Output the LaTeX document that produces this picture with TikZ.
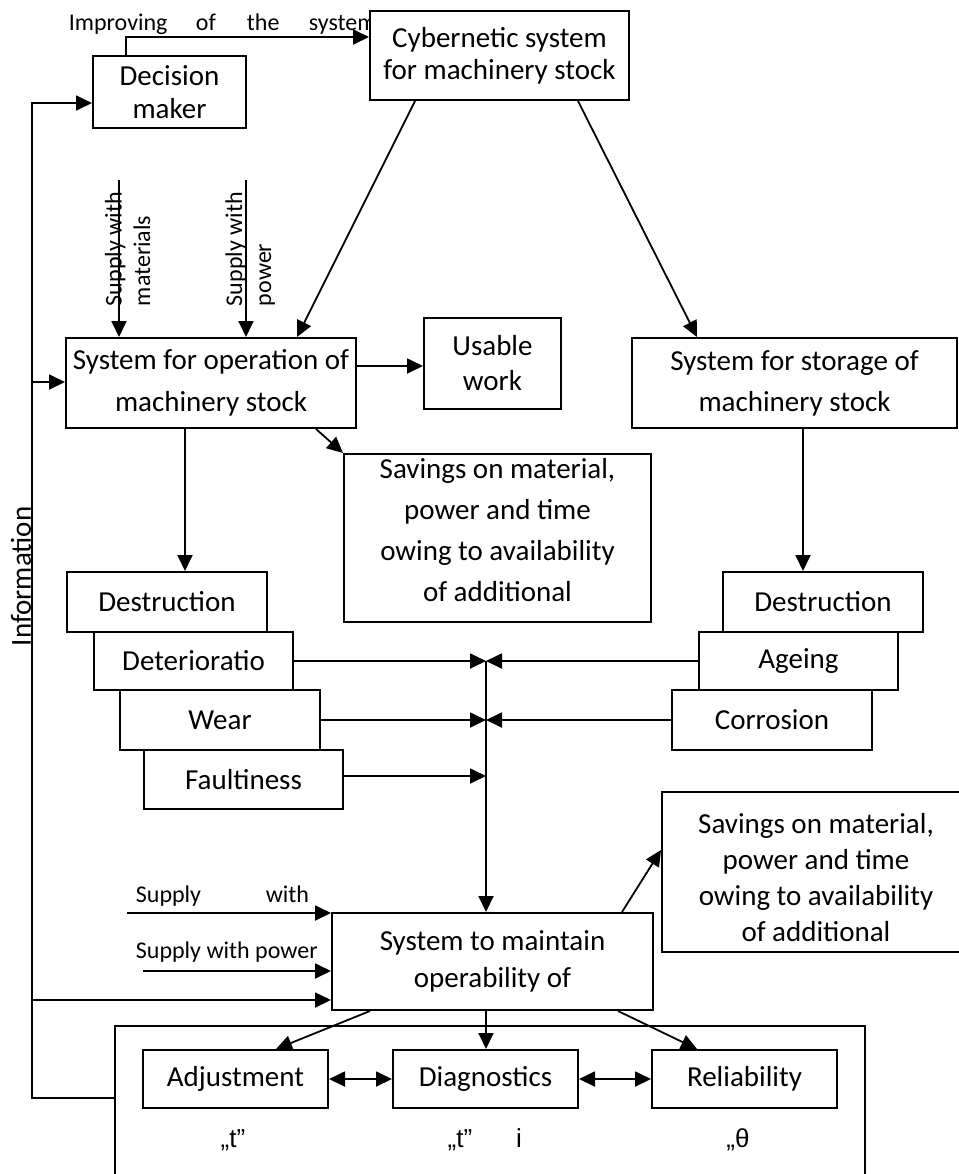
\documentclass[tikz,border=0pt]{standalone}
\usepackage{fontspec}
\setmainfont{Carlito}
\newfontfamily\arialf{Liberation Sans}
\usetikzlibrary{arrows.meta}
\newcommand\mainf[1]{\fontsize{14.5}{#1}\selectfont}
\newcommand\smallf{\fontsize{12}{14}\selectfont}
% name, x1, y1, x2, y2, baselineskip, text
\newcommand\bx[7]{%
  \node[box, minimum width={(#4-#2)*0.5pt}, minimum height={(#5-#3)*0.5pt},
        font=\mainf{#6}] (#1) at ({(#2+#4)/2},{(#3+#5)/2}) {#7};}
\begin{document}
\begin{tikzpicture}[x=0.5pt,y=-0.5pt,
  line width=0.9pt,
  box/.style={draw, line width=1pt, inner sep=0pt, fill=white, align=center},
  arr/.style={-{Triangle[length=8pt,width=7.5pt]}},
  dbl/.style={{Triangle[length=8pt,width=7.5pt]}-{Triangle[length=8pt,width=7.5pt]}},
  small/.style={inner sep=0pt, font=\smallf},
  quot/.style={inner sep=0pt, font=\arialf\fontsize{13}{15}\selectfont},
]
\useasboundingbox (0,0) rectangle (959,1174);

% title words (drawn before the box that hides the overflow)
\node[small, anchor=base west] (w1) at (68,30) {Improving};
\node[small, anchor=base west] (w2) at (195,30) {of};
\node[small, anchor=base west] (w3) at (246,30) {the};
\node[small, anchor=base west] (w4) at (308,30) {system};

% boxes
\bx{dm}{93}{56}{246}{128}{16.5}{Decision\\maker}
\bx{cyb}{370}{11}{629}{100}{16}{Cybernetic system\\for machinery stock}
\bx{op}{66}{338}{356}{428}{21}{System for operation of\\machinery stock}
\bx{uw}{424}{318}{561}{409}{17.5}{Usable\\work}
\bx{st}{632}{338}{957}{428}{20.5}{System for storage of\\machinery stock}
\bx{sv1}{344}{454}{651}{622}{20.5}{Savings on material,\\power and time\\owing to availability\\of additional\rule[-8pt]{0pt}{8pt}}

\bx{ld1}{67}{572}{267}{632}{17}{Destruction}
\bx{ld2}{94}{632}{293}{690}{17}{Deterioratio}
\bx{ld3}{120}{690}{320}{750}{17}{Wear}
\bx{ld4}{144}{750}{343}{809}{17}{Faultiness}

\bx{rd1}{723}{572}{923}{632}{17}{Destruction}
\bx{rd2}{699}{632}{898}{690}{17}{Ageing}
\bx{rd3}{672}{690}{872}{750}{17}{Corrosion}

\bx{sv2}{662}{792}{970}{952}{18}{\rule{0pt}{15.6pt}Savings on material,\\power and time\\owing to availability\\of additional}
\bx{mt}{332}{913}{653}{1010}{18.5}{System to maintain\\operability of}

\bx{bb}{115}{1026}{865}{1190}{17}{}
\bx{adj}{143}{1050}{328}{1108}{17}{Adjustment}
\bx{dg}{393}{1050}{578}{1108}{17}{Diagnostics}
\bx{rel}{652}{1050}{837}{1108}{17}{Reliability}

% labels
\node[small, anchor=base west, rotate=90] (sm1) at (121.5,307) {Supply with};
\node[small, anchor=base west, rotate=90] (sm2) at (150,307) {materials};
\node[small, anchor=base west, rotate=90] (sp1) at (242,307) {Supply with};
\node[small, anchor=base west, rotate=90] (sp2) at (271,307) {power};
\node[inner sep=0pt, font=\mainf{17}, anchor=base west, rotate=90] (inf) at (31,647) {Information};

\node[small, anchor=base west] (sw1t) at (135,902) {Supply};
\node[small, anchor=base east] (sw2t) at (310,902) {with};
\node[small, anchor=base west] (spt) at (135,958) {Supply with power};

\node[quot, anchor=base] (q1) at (233,1147) {„t”};
\node[quot, anchor=base] (q2) at (460,1147) {„t”};
\node[quot, anchor=base] (q3) at (519,1147) {i};
\node[quot, anchor=base] (q4) at (738,1147) {„θ};

% coordinates
\coordinate (jx) at (486,0);
\coordinate (infx) at (32,0);
\coordinate (s1) at (119,180);
\coordinate (s2) at (246,180);
\coordinate (ms1) at (127,913);
\coordinate (ms2) at (143,971);

% connectors
\draw[arr] ([xshift=17pt]dm.north west) |- (cyb.west |- 0,37);
\draw[arr] (bb.west |- 0,1098) -| (infx |- 0,103) -- (dm.west |- 0,103);
\draw[arr] (infx |- 0,382) -- (op.west |- 0,382);
\draw[arr] (infx |- 0,1000) -- (mt.west |- 0,1000);

\draw[arr] (s1) -- (s1 |- op.north);
\draw[arr] (s2) -- (s2 |- op.north);
\draw[arr] (cyb.south -| 415,0) -- (op.north -| 297,0);
\draw[arr] (cyb.south -| 578,0) -- (st.north -| 697,0);
\draw[arr] (op.east |- 0,366) -- (uw.west |- 0,366);
\draw[arr] (op.south -| 316,0) -- (sv1.north west);
\draw[arr] (op.south -| 185,0) -- (ld1.north -| 185,0);
\draw[arr] (st.south -| 803,0) -- (rd1.north -| 803,0);

\draw[arr] (ld2.east) -- (ld2.east -| jx);
\draw[arr] (rd2.west) -- (rd2.west -| jx);
\draw[arr] (ld3.east) -- (ld3.east -| jx);
\draw[arr] (rd3.west) -- (rd3.west -| jx);
\draw[arr] (ld4.east |- 0,776) -- (jx |- 0,776);
\draw[arr] (ld2.east -| jx) -- (mt.north -| jx);

\draw[arr] (ms1) -- (ms1 -| mt.west);
\draw[arr] (ms2) -- (ms2 -| mt.west);
\draw[arr] (mt.north -| 622,0) -- (sv2.west |- 0,850);

\draw[arr] (mt.south -| 370,0) -- (adj.north -| 276,0);
\draw[arr] (mt.south -| jx) -- (dg.north -| jx);
\draw[arr] (mt.south -| 618,0) -- (rel.north -| 697,0);
\draw[dbl] (adj.east) -- (dg.west);
\draw[dbl] (dg.east) -- (rel.west);
\end{tikzpicture}
\end{document}
